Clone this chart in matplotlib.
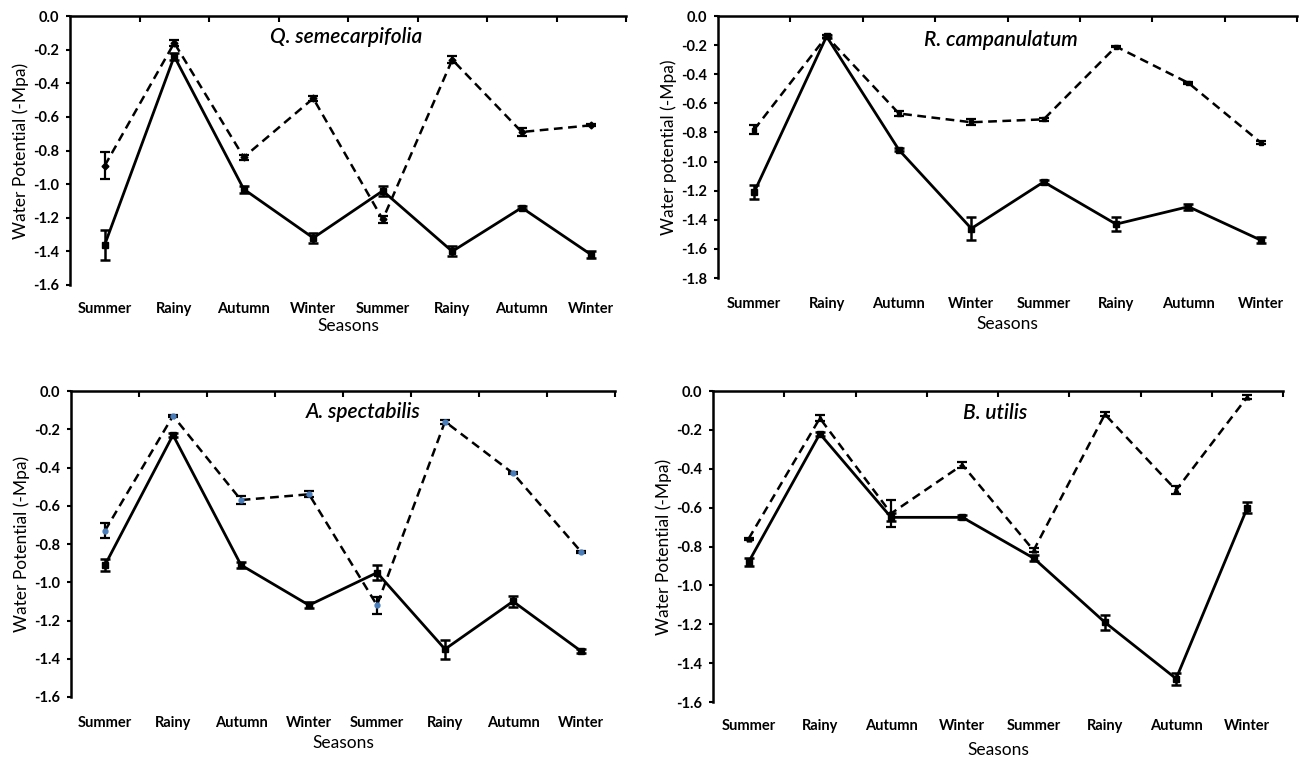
import numpy as np
import matplotlib.pyplot as plt

plt.rcParams['font.family'] = ['Lato', 'DejaVu Sans']

seasons = ['Summer', 'Rainy', 'Autumn', 'Winter', 'Summer', 'Rainy', 'Autumn', 'Winter']

# Q. semecarpifolia
q_solid = [-1.36, -0.24, -1.03, -1.32, -1.04, -1.40, -1.14, -1.42]
q_solid_err = [0.09, 0.02, 0.02, 0.03, 0.03, 0.03, 0.01, 0.02]
q_dash = [-0.89, -0.16, -0.84, -0.49, -1.21, -0.26, -0.69, -0.65]
q_dash_err = [0.08, 0.02, 0.015, 0.015, 0.02, 0.02, 0.025, 0.005]

# R. campanulatum
r_solid = [-1.21, -0.14, -0.92, -1.46, -1.14, -1.43, -1.31, -1.54]
r_solid_err = [0.05, 0.01, 0.01, 0.08, 0.015, 0.05, 0.02, 0.02]
r_dash = [-0.78, -0.14, -0.67, -0.73, -0.71, -0.21, -0.46, -0.87]
r_dash_err = [0.03, 0.01, 0.015, 0.02, 0.01, 0.005, 0.005, 0.01]

# A. spectabilis
a_solid = [-0.91, -0.23, -0.91, -1.12, -0.95, -1.35, -1.10, -1.36]
a_solid_err = [0.03, 0.01, 0.015, 0.015, 0.04, 0.05, 0.03, 0.01]
a_dash = [-0.73, -0.13, -0.57, -0.54, -1.12, -0.16, -0.43, -0.84]
a_dash_err = [0.04, 0.005, 0.02, 0.015, 0.045, 0.01, 0.005, 0.005]

# B. utilis
b_solid = [-0.88, -0.22, -0.65, -0.65, -0.86, -1.19, -1.48, -0.60]
b_solid_err = [0.02, 0.01, 0.02, 0.01, 0.015, 0.04, 0.03, 0.03]
b_dash = [-0.76, -0.14, -0.63, -0.38, -0.82, -0.12, -0.51, -0.03]
b_dash_err = [0.005, 0.015, 0.07, 0.015, 0.01, 0.01, 0.02, 0.01]

W, H = 1300, 762
fig = plt.figure(figsize=(13, 7.62), dpi=100)

# axes box in pixels (left, top, right, bottom), ymin, title, ylabel, data,
# title position, tick label pad, xlabel pad, dashed marker colour / shape
panels = [
    ((70, 16, 626, 285), -1.6, 'Q. semecarpifolia', 'Water Potential (-Mpa)', q_solid, q_solid_err, q_dash, q_dash_err,
     (346, 37), 12, 1.5, 'black', 'D'),
    ((718, 16, 1297, 278), -1.8, 'R. campanulatum', 'Water potential (-Mpa)', r_solid, r_solid_err, r_dash, r_dash_err,
     (1001, 40), 13.5, 3.5, 'black', 's'),
    ((71, 391, 615, 697), -1.6, 'A. spectabilis', 'Water Potential (-Mpa)', a_solid, a_solid_err, a_dash, a_dash_err,
     (363, 412), 14, 3, '#4A7EBB', 'o'),
    ((713, 391, 1283, 702), -1.6, 'B. utilis', 'Water Potential (-Mpa)', b_solid, b_solid_err, b_dash, b_dash_err,
     (995, 413), 12, 7, 'black', '^'),
]

x = np.arange(1, 9)
for (l, t, r, b), ymin, title, ylab, ys, es, yd, ed, tpos, tpad, lpad, dcol, dmark in panels:
    ax = fig.add_axes([l / W, 1 - b / H, (r - l) / W, (b - t) / H])
    ax.errorbar(x, ys, yerr=es, color='black', lw=2.0, marker='s', ms=4,
                capsize=3.5, capthick=1.8, elinewidth=1.8, zorder=3)
    ax.errorbar(x, yd, yerr=ed, color='black', lw=1.8, ls=(0, (3.5, 2.2)),
                marker=dmark, ms=3.5, mfc=dcol, mec=dcol,
                capsize=3.5, capthick=1.6, elinewidth=1.6, zorder=3)
    ax.set_xlim(0.5, 8.5)
    ax.set_ylim(ymin, 0)
    yt = np.arange(ymin, 0.01, 0.2)
    ax.set_yticks(yt)
    ax.set_yticklabels(['%.1f' % (0.0 if abs(v) < 1e-9 else v) for v in yt],
                       fontsize=10.5, fontweight='bold')
    ax.set_xticks(np.arange(1.5, 9.0, 1.0))
    ax.set_xticks(x, seasons, minor=True, fontsize=10.5, fontweight='bold')
    ax.tick_params(which='major', axis='x', top=True, bottom=False, labelbottom=False,
                   direction='in', length=4, width=1.5)
    ax.tick_params(which='minor', axis='x', bottom=True, length=0, pad=tpad)
    ax.tick_params(axis='y', direction='out', length=3, width=1.5, pad=5)
    for s in ['right', 'bottom']:
        ax.spines[s].set_visible(False)
    for s in ['top', 'left']:
        ax.spines[s].set_linewidth(1.8)
    ax.set_ylabel(ylab, fontsize=12.5, labelpad=3)
    ax.set_xlabel('Seasons', fontsize=12.5, labelpad=lpad)
    fig.text(tpos[0] / W, 1 - tpos[1] / H, title, fontsize=15, style='italic', fontweight='semibold',
             ha='center', va='center')

fig.savefig('out.png', dpi=100)
